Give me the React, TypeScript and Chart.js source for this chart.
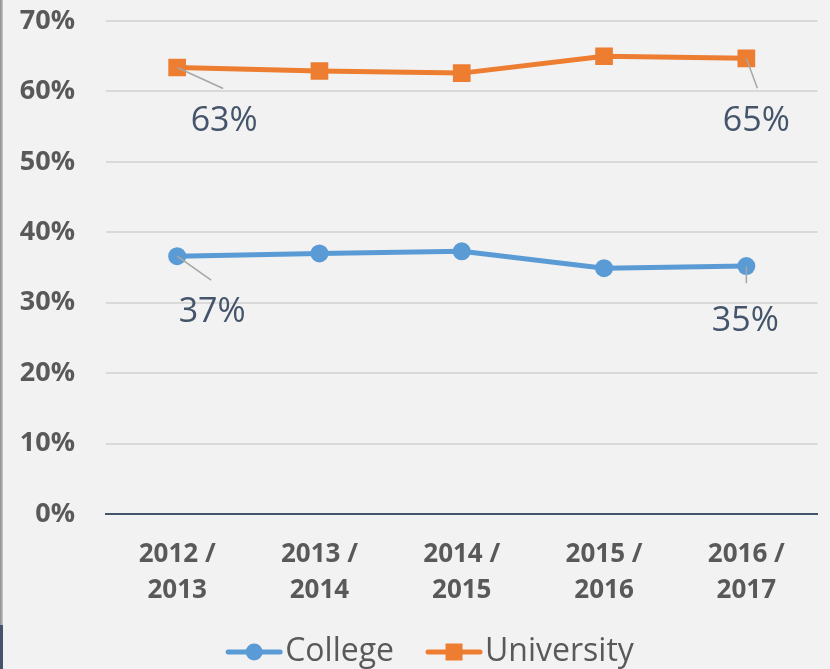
import React, { useEffect, useRef } from "react";
import { Chart, registerables } from "chart.js";

Chart.register(...registerables);

const categories: string[][] = [
  ["2012 /", "2013"],
  ["2013 /", "2014"],
  ["2014 /", "2015"],
  ["2015 /", "2016"],
  ["2016 /", "2017"],
];
const seriesNames = ["College", "University"];
const collegeValues = [36.6, 37.0, 37.3, 34.9, 35.2];
const universityValues = [63.4, 62.9, 62.6, 65.0, 64.7];
const yMin = 0;
const yMax = 70;
const yStep = 10;

const COLLEGE = "#5b9bd5";
const UNIV = "#ed7d31";
const FONT = "'Open Sans', 'DejaVu Sans', sans-serif";

// annotated points: dataset, index, label offset, leader end offset
const labelSpecs = [
  { ds: 1, i: 0, tx: 47, ty: 54, lx: 46, ly: 21 },
  { ds: 1, i: 4, tx: 10, ty: 63, lx: 11, ly: 30 },
  { ds: 0, i: 0, tx: 35, ty: 56, lx: 34, ly: 24 },
  { ds: 0, i: 4, tx: -1, ty: 55, lx: 0, ly: 17 },
];

const dataLabelPlugin = {
  id: "leaderLabels",
  afterDatasetsDraw(chart: any) {
    const ctx = chart.ctx;
    ctx.save();
    labelSpecs.forEach((s) => {
      const meta = chart.getDatasetMeta(s.ds);
      const el = meta.data[s.i];
      if (!el) return;
      const v = chart.data.datasets[s.ds].data[s.i] as number;
      ctx.strokeStyle = "#a6a6a6";
      ctx.lineWidth = 1.5;
      ctx.beginPath();
      ctx.moveTo(el.x, el.y);
      ctx.lineTo(el.x + s.lx, el.y + s.ly);
      ctx.stroke();
      ctx.fillStyle = "#44546a";
      ctx.font = `34px ${FONT}`;
      ctx.textAlign = "center";
      ctx.textBaseline = "middle";
      ctx.fillText(Math.round(v) + "%", el.x + s.tx, el.y + s.ty);
    });
    ctx.restore();
  },
};

const legendPlugin = {
  id: "lineLegend",
  afterDraw(chart: any) {
    const ctx = chart.ctx;
    ctx.save();
    ctx.font = `32px ${FONT}`;
    const lineLen = 56;
    const gap = 3;
    const itemGap = 32;
    const items = chart.data.datasets.map((d: any) => ({
      text: d.label,
      color: d.borderColor,
      style: d.pointStyle,
      w: lineLen + gap + ctx.measureText(d.label).width,
    }));
    const total = items.reduce((a: number, b: any) => a + b.w, 0) + itemGap * (items.length - 1);
    let x = chart.width / 2 + 15 - total / 2;
    const y = 652;
    items.forEach((it: any) => {
      ctx.strokeStyle = it.color;
      ctx.lineWidth = 5;
      ctx.lineCap = "round";
      ctx.beginPath();
      ctx.moveTo(x + 2, y);
      ctx.lineTo(x + lineLen - 2, y);
      ctx.stroke();
      ctx.fillStyle = it.color;
      const cx = x + lineLen / 2;
      if (it.style === "circle") {
        ctx.beginPath();
        ctx.arc(cx, y, 8.5, 0, Math.PI * 2);
        ctx.fill();
      } else {
        ctx.fillRect(cx - 8.5, y - 8.5, 17, 17);
      }
      ctx.fillStyle = "#595959";
      ctx.textAlign = "left";
      ctx.textBaseline = "middle";
      ctx.fillText(it.text, x + lineLen + gap, y);
      x += it.w + itemGap;
    });
    ctx.restore();
  },
};

export default function App() {
  const ref = useRef<HTMLCanvasElement | null>(null);
  useEffect(() => {
    if (!ref.current) return;
    const chart = new Chart(ref.current, {
      type: "line",
      data: {
        labels: categories as any,
        datasets: [
          {
            label: seriesNames[0],
            data: collegeValues,
            borderColor: COLLEGE,
            backgroundColor: COLLEGE,
            borderWidth: 5,
            pointStyle: "circle",
            pointRadius: 9,
            pointHoverRadius: 9,
            pointBorderWidth: 0,
            tension: 0,
          },
          {
            label: seriesNames[1],
            data: universityValues,
            borderColor: UNIV,
            backgroundColor: UNIV,
            borderWidth: 5,
            pointStyle: "rect",
            pointRadius: 12.5,
            pointHoverRadius: 12.5,
            pointBorderWidth: 0,
            tension: 0,
          },
        ],
      },
      options: {
        animation: false,
        responsive: false,
        layout: { padding: { top: 21, right: 8, bottom: 65, left: 0 } },
        plugins: {
          legend: { display: false },
          tooltip: { enabled: false },
        },
        scales: {
          x: {
            offset: true,
            grid: { display: false, drawTicks: false },
            border: { display: true, color: "#44546a", width: 2 },
            ticks: {
              color: "#595959",
              font: { family: FONT, size: 26, weight: "bold", lineHeight: 1.38 },
              padding: 23,
              maxRotation: 0,
              autoSkip: false,
            },
            afterFit: (s: any) => {
              s.height = 90;
            },
          },
          y: {
            min: yMin,
            max: yMax,
            grid: { color: "#d9d9d9", lineWidth: 2, drawTicks: true, tickLength: 31, tickColor: "rgba(0,0,0,0)" },
            border: { display: false },
            ticks: {
              stepSize: yStep,
              color: "#595959",
              padding: 0,
              font: { family: FONT, size: 27, weight: "bold" },
              callback: (v: any) => v + "%",
            },
            afterFit: (s: any) => {
              s.width = 106;
            },
          },
        },
      },
      plugins: [dataLabelPlugin, legendPlugin],
    });
    return () => chart.destroy();
  }, []);
  return (
    <div
      style={{
        position: "fixed",
        left: 0,
        top: 0,
        width: 830,
        height: 669,
        background: "#f2f2f2",
        overflow: "hidden",
      }}
    >
      <canvas ref={ref} width={830} height={669} style={{ display: "block", position: "absolute", left: 0, top: 0 }} />
      <div style={{ position: "absolute", left: 0, top: 0, width: 3, height: 625, background: "linear-gradient(to right, #8a8a8a, #c8c8c8)" }} />
      <div style={{ position: "absolute", left: 0, top: 625, width: 3, height: 44, background: "#44546a" }} />
    </div>
  );
}
